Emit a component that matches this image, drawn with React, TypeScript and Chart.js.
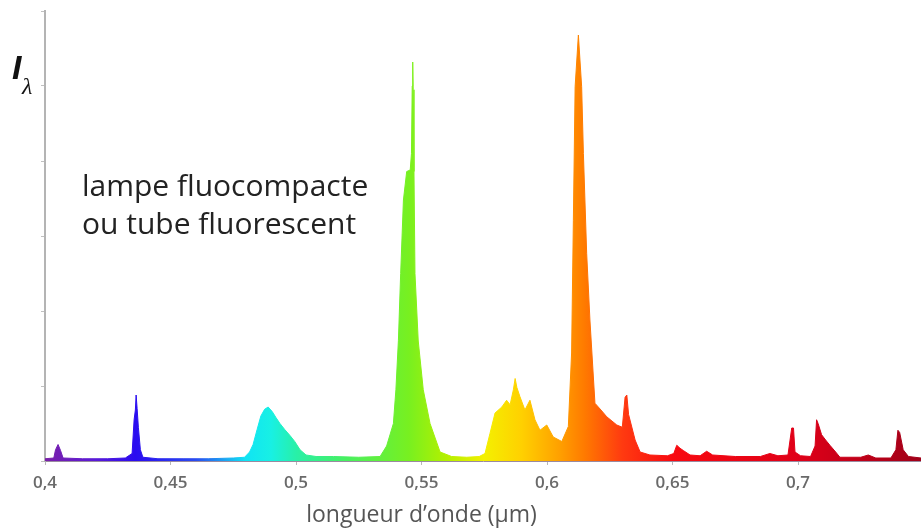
import React, { useEffect, useRef } from "react";
import { Chart, registerables } from "chart.js";

Chart.register(...registerables);

// Emission spectrum of a compact fluorescent lamp (wavelength in µm, relative intensity)
const wavelengths: number[] = [
  0.4, 0.4035, 0.4042, 0.4052, 0.4062, 0.4072, 0.415, 0.425, 0.432,
  0.4347, 0.4355, 0.436, 0.4363, 0.4367, 0.4372, 0.438, 0.439, 0.445,
  0.455, 0.465, 0.475, 0.4795, 0.4815, 0.4829, 0.4845, 0.486, 0.4875,
  0.4889, 0.4905, 0.492, 0.4936, 0.4955, 0.4976, 0.4995, 0.5016, 0.504,
  0.508, 0.515, 0.525, 0.5335, 0.5361, 0.5388, 0.5398, 0.5408, 0.5417,
  0.5428, 0.5441, 0.5455, 0.546, 0.5463, 0.5465, 0.5467, 0.547, 0.5474,
  0.5487, 0.5507, 0.5534, 0.5574, 0.562, 0.568, 0.573, 0.5753, 0.5773,
  0.5793, 0.582, 0.5839, 0.5853, 0.5866, 0.5873, 0.588, 0.5892, 0.5912,
  0.5932, 0.5952, 0.5972, 0.5999, 0.6025, 0.6059, 0.6085, 0.6098, 0.6105,
  0.6112, 0.6125, 0.6138, 0.6145, 0.6158, 0.6171, 0.6191, 0.6215, 0.6238,
  0.6278, 0.63, 0.6311, 0.6318, 0.6325, 0.6351, 0.6371, 0.641, 0.648,
  0.6505, 0.6517, 0.653, 0.6543, 0.657, 0.661, 0.6636, 0.666, 0.675,
  0.685, 0.6888, 0.692, 0.696, 0.6975, 0.6982, 0.6988, 0.701, 0.705,
  0.7068, 0.7074, 0.708, 0.7094, 0.711, 0.7127, 0.715, 0.7167, 0.725,
  0.728, 0.731, 0.737, 0.739, 0.7398, 0.7405, 0.7419, 0.744, 0.749,
];

const intensities: number[] = [
  0.03, 0.04, 0.15, 0.22, 0.14, 0.04, 0.03, 0.03, 0.04,
  0.1, 0.55, 0.68, 0.88, 0.7, 0.45, 0.15, 0.05, 0.03,
  0.03, 0.03, 0.04, 0.05, 0.12, 0.22, 0.42, 0.6, 0.69,
  0.72, 0.66, 0.58, 0.5, 0.42, 0.34, 0.26, 0.15, 0.08,
  0.06, 0.06, 0.05, 0.06, 0.2, 0.5, 0.95, 1.61, 2.5,
  3.48, 3.86, 3.88, 4.1, 5.0, 5.32, 4.95, 3.86, 2.5,
  1.6, 0.95, 0.5, 0.12, 0.06, 0.05, 0.06, 0.1, 0.37,
  0.64, 0.72, 0.81, 0.75, 0.95, 1.1, 0.98, 0.86, 0.68,
  0.81, 0.55, 0.41, 0.48, 0.32, 0.26, 0.46, 1.44, 3.21,
  4.99, 5.68, 4.99, 4.1, 2.77, 1.88, 0.77, 0.68, 0.59,
  0.48, 0.45, 0.85, 0.88, 0.62, 0.28, 0.12, 0.08, 0.07,
  0.1, 0.21, 0.17, 0.14, 0.08, 0.07, 0.13, 0.08, 0.06,
  0.06, 0.1, 0.07, 0.08, 0.44, 0.44, 0.12, 0.07, 0.06,
  0.2, 0.55, 0.5, 0.35, 0.28, 0.21, 0.12, 0.05, 0.05,
  0.08, 0.04, 0.04, 0.15, 0.41, 0.38, 0.15, 0.06, 0.04,
];

const xTicks: number[] = [0.4, 0.45, 0.5, 0.55, 0.6, 0.65, 0.7];
const yTicks: number[] = [0, 1, 2, 3, 4, 5, 6];

// Visible-spectrum colour stops (wavelength in µm -> colour)
const spectrumStops: number[] = [0.4, 0.42, 0.436, 0.46, 0.48, 0.49, 0.5, 0.52, 0.545, 0.56, 0.575, 0.59, 0.605, 0.615, 0.63, 0.65, 0.7, 0.749];
const spectrumColors: string[] = [
  "#7a1fa8", "#5a1ad8", "#2a0cf0", "#2a4cf0", "#10e4f4", "#18f0e4", "#28f0a8", "#48f060",
  "#78f020", "#b4f000", "#f4f000", "#ffd000", "#ffa000", "#ff7a00", "#ff3a10", "#f80a10",
  "#e00018", "#a00018",
];

const xLabel = "longueur d\u2019onde (\u00b5m)";
const noteLines: string[] = ["lampe fluocompacte", "ou tube fluorescent"];

function spectrumGradient(chart: Chart): CanvasGradient | string {
  const area = chart.chartArea;
  const xs = chart.scales.x;
  if (!area || !xs) return "#888";
  const g = chart.ctx.createLinearGradient(area.left, 0, area.right, 0);
  const w = area.right - area.left;
  spectrumStops.forEach((s, i) => {
    const off = (xs.getPixelForValue(s) - area.left) / w;
    g.addColorStop(Math.min(1, Math.max(0, off)), spectrumColors[i]);
  });
  return g;
}

const annotations = {
  id: "spectrumText",
  afterDraw(chart: Chart) {
    const { ctx, chartArea } = chart;
    const xs = chart.scales.x;
    ctx.save();
    // intensity symbol I_λ
    ctx.fillStyle = "#111";
    ctx.textBaseline = "alphabetic";
    ctx.textAlign = "left";
    ctx.font = "italic 600 34px 'Liberation Sans'";
    ctx.fillText("I", 12, 79);
    ctx.font = "italic 24px 'Liberation Serif'";
    ctx.fillText("\u03bb", 22, 94);
    // note
    ctx.fillStyle = "#222";
    ctx.font = "30px 'Open Sans'";
    noteLines.forEach((line, i) => ctx.fillText(line, chartArea.left + 37, 196 + i * 38));
    // x axis title
    ctx.fillStyle = "#555";
    ctx.font = "23px 'Open Sans'";
    ctx.textAlign = "center";
    ctx.fillText(xLabel, xs.getPixelForValue(0.55), 522);
    ctx.restore();
  },
};

export default function App() {
  const ref = useRef<HTMLCanvasElement | null>(null);

  useEffect(() => {
    if (!ref.current) return;
    const chart = new Chart(ref.current, {
      type: "line",
      data: {
        datasets: [
          {
            data: wavelengths.map((w, i) => ({ x: w, y: intensities[i] })),
            fill: "origin",
            tension: 0,
            pointRadius: 0,
            borderWidth: 1,
            backgroundColor: (c: any) => spectrumGradient(c.chart),
            borderColor: (c: any) => spectrumGradient(c.chart),
          },
        ],
      },
      options: {
        animation: false,
        responsive: false,
        devicePixelRatio: 1,
        layout: { padding: { top: 11, left: 0, right: 0, bottom: 0 } },
        plugins: { legend: { display: false }, tooltip: { enabled: false } },
        scales: {
          x: {
            type: "linear",
            min: 0.4,
            max: 0.749,
            afterBuildTicks: (s: any) => {
              s.ticks = xTicks.map((v) => ({ value: v }));
            },
            afterFit: (s: any) => {
              s.height = 71;
            },
            grid: { drawOnChartArea: false, tickLength: 4, color: "#b8b8b8" },
            border: { color: "#9a8aa0", width: 1 },
            ticks: {
              padding: 8,
              color: "#6a6a6a",
              font: { family: "'Open Sans'", size: 17, weight: "600" },
              callback: (v: any) => String(Number(v)).replace(".", ","),
              maxRotation: 0,
            },
          },
          y: {
            type: "linear",
            min: 0,
            max: 6,
            afterBuildTicks: (s: any) => {
              s.ticks = yTicks.map((v) => ({ value: v }));
            },
            afterFit: (s: any) => {
              s.width = 45;
            },
            grid: { drawOnChartArea: false, tickLength: 4, color: "#c0c0c0" },
            border: { color: "#b4b4b4", width: 2 },
            ticks: { display: false },
          },
        },
      },
      plugins: [annotations],
    });
    return () => chart.destroy();
  }, []);

  return (
    <div style={{ position: "fixed", left: 0, top: 0, width: 921, height: 532, background: "#fff" }}>
      <canvas ref={ref} width={921} height={532} />
    </div>
  );
}
